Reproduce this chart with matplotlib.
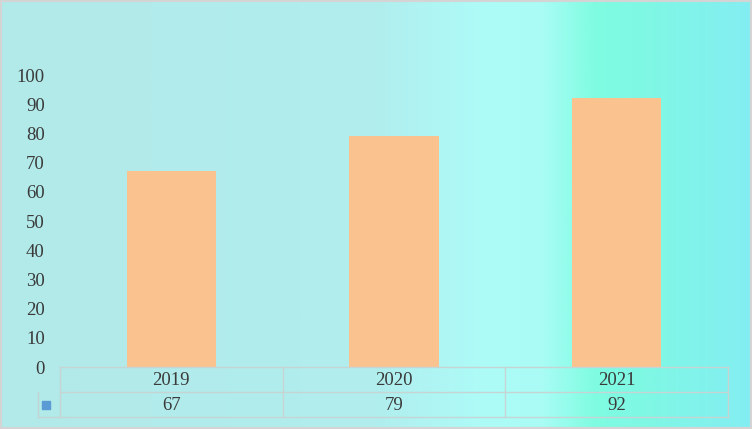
import matplotlib.pyplot as plt
import matplotlib.patches as patches
from matplotlib.colors import LinearSegmentedColormap
import numpy as np

years = ['2019', '2020', '2021']
values = [67, 79, 92]
y_ticks = list(range(0, 101, 10))

# background gradient stops (position along x, colour)
bg_stops = [(0.0, '#B3E9E9'), (0.50, '#B1EEEE'), (0.64, '#ADFBF8'),
            (0.72, '#AAFCF5'), (0.79, '#80FCE2'), (0.86, '#7FF8E4'), (1.0, '#84EEF2')]

W, H = 752, 429
fig = plt.figure(figsize=(W / 100, H / 100), dpi=100)

# background
bg = fig.add_axes([0, 0, 1, 1])
cmap = LinearSegmentedColormap.from_list('bg', bg_stops)
grad = np.linspace(0, 1, 512).reshape(1, -1)
bg.imshow(grad, aspect='auto', cmap=cmap, extent=[0, 1, 0, 1])
bg.add_patch(patches.Rectangle((0, 0), 1, 1, fill=False, edgecolor='#D4D4D4',
                               linewidth=3, transform=bg.transAxes))
bg.set_axis_off()

# plot area in pixels
x0, x1 = 60, 728
y_top, y_bot = 75, 367
ax = fig.add_axes([x0 / W, 1 - y_bot / H, (x1 - x0) / W, (y_bot - y_top) / H])
ax.patch.set_alpha(0)

xs = np.arange(len(years))
ax.bar(xs, values, width=0.4, color='#F9C28F', zorder=2)
ax.set_xlim(-0.5, len(years) - 0.5)
ax.set_ylim(0, 100)
ax.set_yticks(y_ticks)
font = {'family': 'Liberation Serif', 'size': 13.5, 'color': '#3A3A3A'}
ax.set_yticklabels([str(t) for t in y_ticks], fontdict=font)
ax.tick_params(axis='y', length=0, pad=11)
ax.tick_params(axis='x', length=0, labelbottom=False)
for s in ax.spines.values():
    s.set_visible(False)

# data table below the axes
row_h = 25 / (y_bot - y_top) * 100
grid_col = '#C6D4D4'
r1 = -row_h
r2 = -2 * row_h
ax.plot([-0.5, 2.5], [0, 0], color=grid_col, lw=1, clip_on=False)
ax.plot([-0.5, 2.5], [r1, r1], color=grid_col, lw=1, clip_on=False)
ax.plot([-0.5 - 22 / 222.7, 2.5], [r2, r2], color=grid_col, lw=1, clip_on=False)
ax.plot([-0.5 - 22 / 222.7] * 2, [r1, r2], color=grid_col, lw=1, clip_on=False)
for xv in [-0.5, 0.5, 1.5, 2.5]:
    ax.plot([xv, xv], [0, r2], color=grid_col, lw=1, clip_on=False)
for i, (yr, v) in enumerate(zip(years, values)):
    ax.text(i, r1 / 2 - 0.5, yr, ha='center', va='center', fontdict=font, clip_on=False)
    ax.text(i, r1 + r1 / 2 - 0.5, str(v), ha='center', va='center', fontdict=font, clip_on=False)
ax.add_patch(patches.Rectangle((-0.5 - 18 / 222.7, r1 + r1 / 2 - 4 / 2.92),
                               8 / 222.7, 8 / 2.92, color='#5B9BD5', clip_on=False))

fig.savefig('out.png', dpi=100)
